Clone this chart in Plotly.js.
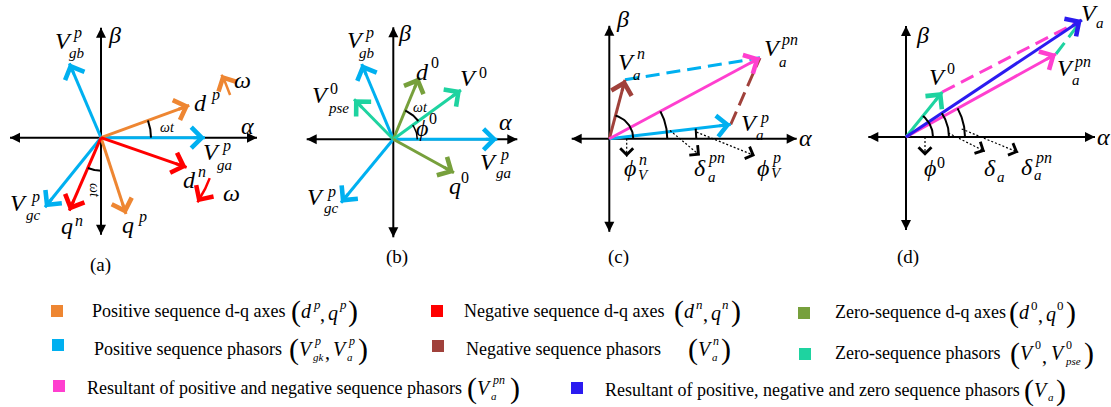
<!DOCTYPE html>
<html><head><meta charset="utf-8">
<script src="https://cdn.plot.ly/plotly-3.0.1.min.js"></script>
<style>html,body{margin:0;padding:0;background:#fff}#chart{width:1111px;height:407px}</style>
</head><body><div id="chart"></div>
<script>
// ================= DATA (alpha / beta components of each phasor or axis) =================
// (a) positive & negative sequence d-q frames and positive sequence grid phasors
const aNames = ['Vgb_p', 'Vga_p', 'Vgc_p', 'd_p', 'q_p', 'd_n', 'q_n'];
const aAlpha = [-31.6, 104, -56, 88.3, 25, 85.6, -31.7];
const aBeta  = [74.4, 0, -69.6, 32.4, -76.3, -29.6, -73];
// (b) zero sequence frame and phasors
const bNames = ['Vgb_p', 'Vga_p', 'Vgc_p', 'Vpse_0', 'd_0', 'V_0', 'q_0'];
const bAlpha = [-31.6, 104, -52.3, -39.3, 25.7, 67.7, 60.7];
const bBeta  = [75.3, 0, -63.4, 40, 62, 49.3, -33.4];
// (c) positive + negative sequence resultant
const cNames = ['Va_n', 'Va_p', 'Va_pn'];
const cAlpha = [15.7, 121.4, 150.7];
const cBeta  = [59, 14.3, 81];
// (d) resultant including zero sequence
const dNames = ['V_0', 'Va_pn', 'Va'];
const dAlpha = [36.3, 150, 175.7];
const dBeta  = [45, 83, 117];
// legend texts
const legendTexts = ['Positive sequence d-q axes', 'Negative sequence d-q axes', 'Zero-sequence d-q axes',
  'Positive sequence phasors', 'Negative sequence phasors', 'Zero-sequence phasors',
  'Resultant of positive and negative sequence phasors', 'Resultant of positive, negative and zero sequence phasors'];

// ================= STYLE =================
const FONT = '"Liberation Serif", "Times New Roman", serif';
const W = 1111, H = 407;
const C = {orange:'#EE8632', blue:'#00B0F0', red:'#FF0000', brown:'#A0413B', olive:'#77A03C',
           teal:'#1ED3A0', magenta:'#FF3FCF', violet:'#2B1BF0'};
const colorOf = {Vgb_p:C.blue, Vga_p:C.blue, Vgc_p:C.blue, d_p:C.orange, q_p:C.orange, d_n:C.red, q_n:C.red,
  Vpse_0:C.teal, d_0:C.olive, V_0:C.teal, q_0:C.olive, Va_n:C.brown, Va_p:C.blue, Va_pn:C.magenta, Va:C.violet};
const legendColors = [C.orange, C.red, C.olive, C.blue, C.brown, C.teal, C.magenta, C.violet];

const traces = [], ann = [], shapes = [];
const layout = {width:W, height:H, margin:{l:0,r:0,t:0,b:0}, paper_bgcolor:'#fff', plot_bgcolor:'rgba(0,0,0,0)',
  showlegend:false, hovermode:false};

const panels = [
  {box:[0,280],    origin:[101,137.7],   axes:[-91,156,-97,110],      names:aNames, al:aAlpha, be:aBeta},
  {box:[280,560],  origin:[393.3,139.3], axes:[-86.6,124,-98,112],    names:bNames, al:bAlpha, be:bBeta},
  {box:[560,840],  origin:[609.3,138.8], axes:[-37.6,187.4,-93,113],  names:cNames, al:cAlpha, be:cBeta},
  {box:[840,1111], origin:[906,137],     axes:[-37.7,189,-93,111],    names:dNames, al:dAlpha, be:dBeta}
];
panels.forEach((p, i) => {
  const s = i ? String(i + 1) : '';
  p.xa = 'x' + s; p.ya = 'y' + s;
  layout['xaxis' + s] = {domain:[p.box[0]/W, p.box[1]/W], range:[p.box[0]-p.origin[0], p.box[1]-p.origin[0]],
    visible:false, fixedrange:true, anchor:'y' + s};
  layout['yaxis' + s] = {domain:[1-300/H, 1], range:[-(300-p.origin[1]), p.origin[1]],
    visible:false, fixedrange:true, anchor:'x' + s};
  p.vec = {};
  p.names.forEach((n, k) => { p.vec[n] = [p.al[k], p.be[k]]; });
});

function line(p, xs, ys, color, width, dash) {
  traces.push({type:'scatter', mode:'lines', x:xs, y:ys, xaxis:p.xa, yaxis:p.ya,
    line:{color:color, width:width, dash:dash || 'solid'}, hoverinfo:'skip', showlegend:false});
}
function head(p, x, y, fx, fy, color, w, size, style, tail) {
  const dx = x - fx, dy = y - fy, L = Math.hypot(dx, dy) || 1, t = tail || 9;
  ann.push({xref:p.xa, yref:p.ya, axref:p.xa, ayref:p.ya, x:x, y:y, ax:x - dx/L*t, ay:y - dy/L*t,
    text:'', font:{size:1}, borderpad:0, showarrow:true, arrowhead:style, arrowsize:size, arrowwidth:w,
    arrowcolor:color, standoff:0});
}
function ang(p, n) { return typeof n === 'number' ? n : Math.atan2(p.vec[n][1], p.vec[n][0]) * 180 / Math.PI; }
function arc(p, r, from, to, color, width, arrow) {
  const a0 = ang(p, from), a1 = ang(p, to), xs = [], ys = [], N = 30;
  for (let k = 0; k <= N; k++) { const t = (a0 + (a1 - a0) * k / N) * Math.PI / 180; xs.push(r*Math.cos(t)); ys.push(r*Math.sin(t)); }
  line(p, xs, ys, color, width);
  if (arrow) head(p, xs[N], ys[N], xs[N-2], ys[N-2], color, width, 1.6, 4, 7);
}
function pointer(p, x0, y0, x1, y1) {
  line(p, [x0, x1], [y0, y1], '#000', 1.2, '2px,2px');
  head(p, x1, y1, x0, y0, '#000', 1, 2.5, 4, 5);
}

// axes
panels.forEach(p => {
  const [l, r, b, t] = p.axes;
  line(p, [l, r], [0, 0], '#000', 2);
  line(p, [0, 0], [b, t], '#000', 2);
  head(p, r, 0, 0, 0, '#000', 2, 1, 2); head(p, l, 0, 0, 0, '#000', 2, 1, 2);
  head(p, 0, t, 0, 0, '#000', 2, 1, 2); head(p, 0, b, 0, 0, '#000', 2, 1, 2);
});
// dashed construction lines
function dashed(p, fromN, toN, color) {
  line(p, [p.vec[fromN][0], p.vec[toN][0]], [p.vec[fromN][1], p.vec[toN][1]], color, 3, '14px,7px');
}
dashed(panels[2], 'Va_n', 'Va_pn', C.blue);
dashed(panels[2], 'Va_p', 'Va_pn', C.brown);
dashed(panels[3], 'V_0', 'Va', C.magenta);
dashed(panels[3], 'Va_pn', 'Va', C.teal);
// phasors / frame axes
panels.forEach(p => {
  p.names.forEach((n, k) => {
    const col = colorOf[n];
    line(p, [0, p.al[k]], [0, p.be[k]], col, 3);
    head(p, p.al[k], p.be[k], 0, 0, col, 3, 1.35, 4, 12);
  });
});
// angle arcs
const [pa, pb, pc, pd] = panels;
arc(pa, 50, 0, 'd_p', '#000', 2);
arc(pa, 33, 'q_n', -90, '#000', 2);
arc(pa, 136, 18.3, 27.6, C.orange, 2.5, true);
arc(pa, 116, -20.4, -33.8, C.red, 2.5, true);
arc(pb, 31, 'V_0', 'd_0', '#000', 2);
arc(pb, 24, 0, 'V_0', '#000', 1.5);
arc(pc, 24, 0, 'Va_n', '#000', 2);
arc(pc, 58, 0, 'Va_pn', '#000', 2);
arc(pc, 87, 0, 'Va_p', '#000', 2);
arc(pd, 27, 0, 'V_0', '#000', 2);
arc(pd, 43, 0, 'Va', '#000', 2);
arc(pd, 59, 0, 'Va_pn', '#000', 2);
pointer(pc, 17.4, 0, 17.4, -18);
pointer(pc, 60.7, 8.3, 90.7, -16.7);
pointer(pc, 87.3, 6.7, 145.7, -17);
pointer(pd, 19, 0, 19, -18.7);
pointer(pd, 42.3, 4, 79, -14.4);
pointer(pd, 55.7, 8, 112.3, -15.4);

// ================= TEXT =================
function txt(x, y, text, size, o) {
  o = o || {};
  ann.push({xref:'paper', yref:'paper', x:x/W, y:1-y/H, text:text, showarrow:false,
    xanchor:o.xa || 'center', yanchor:'middle', textangle:o.rot || 0,
    font:{family:FONT, size:size, color:o.color || '#000', style:o.it ? 'italic' : 'normal'}});
}
function isDigit(s) { return /^[0-9]+$/.test(s); }
function lab(m, mx, my, sup, sx, sy, sub, bx, by, size) {
  txt(mx, my, m, size || 24, {it:true});
  if (sup) txt(sx, sy, sup, 16, {it:!isDigit(sup)});
  if (sub) txt(bx, by, sub, 15, {it:true});
}
// panel (a)
lab('β', 114, 35); lab('α', 247, 126);
lab('V', 63, 41, 'p', 77, 33, 'gb', 77, 53);
lab('V', 211, 152, 'p', 226, 146, 'ga', 224, 165);
lab('V', 18, 203, 'p', 35, 197, 'gc', 33, 215);
lab('d', 200, 103, 'p', 215, 95);
lab('d', 189, 180, 'n', 202, 172);
lab('q', 67, 226, 'n', 79, 220);
lab('q', 128, 225, 'p', 142, 217);
lab('ω', 242, 80); lab('ω', 231, 193);
txt(167, 128, 'ωt', 14, {it:true});
txt(95, 190, 'ωt', 14, {it:true, rot:90});
txt(100, 265, '(a)', 19);
// panel (b)
lab('β', 404, 33); lab('α', 505, 122);
lab('V', 355, 40, 'p', 369, 33, 'gb', 367, 53);
lab('V', 320, 95, '0', 334, 88, 'pse', 338, 108);
lab('d', 422, 72, '0', 435, 62);
lab('V', 468, 78, '0', 483, 72);
txt(420, 108, 'ωt', 14, {it:true});
lab('ϕ', 422, 128, '0', 433, 118);
lab('V', 488, 162, 'p', 504, 155, 'ga', 503, 173);
lab('q', 455, 186, '0', 465, 177);
lab('V', 315, 197, 'p', 331, 192, 'gc', 331, 208);
txt(397, 257, '(b)', 19);
// panel (c)
lab('β', 622, 19); lab('α', 805, 138);
lab('V', 627, 62, 'n', 641, 53, 'a', 637, 75);
lab('V', 772, 48, 'pn', 789, 40, 'a', 783, 62);
lab('V', 749, 123, 'p', 764, 118, 'a', 760, 135);
lab('ϕ', 630, 168, 'n', 643, 160, 'V', 643, 175);
lab('δ', 700, 168, 'pn', 716, 158, 'a', 712, 177);
lab('ϕ', 763, 168, 'p', 777, 158, 'V', 776, 173);
txt(618, 257, '(c)', 19);
// panel (d)
lab('β', 922, 35); lab('α', 1103, 137);
lab('V', 1089, 13, null, 0, 0, 'a', 1100, 23);
lab('V', 937, 77, '0', 951, 68);
lab('V', 1065, 68, 'pn', 1082, 62, 'a', 1076, 80);
lab('ϕ', 930, 168, '0', 941, 162);
lab('δ', 990, 168, null, 0, 0, 'a', 1001, 177);
lab('δ', 1027, 167, 'pn', 1043, 158, 'a', 1038, 175);
txt(908, 257, '(d)', 19);

// ================= LEGEND =================
const sq = [[57,311],[437,311],[804,313],[58,345],[438,346],[805,354],[59,386],[577,388]];
const tp = [[90,311],[462,311],[833,312],[92,349],[464,349],[833,353],[85,388],[603,390]];
const mp = [[289,311],[672,311],[1007,312],[287,349],[686,349],[1008,353],[465,388],[1022,390]];
const math = [
  [['(',0,0,30],['d',10,0,20,1],['p',22,-7,13,1],[',',29,3,20],['q',37,2,20,1],['p',48,-7,13,1],[')',57,0,30]],
  [['(',0,0,30],['d',10,0,20,1],['n',22,-7,13,1],[',',29,3,20],['q',37,2,20,1],['n',48,-7,13,1],[')',57,0,30]],
  [['(',0,0,30],['d',10,0,20,1],['0',22,-7,13],[',',29,3,20],['q',37,2,20,1],['0',48,-7,13],[')',57,0,30]],
  [['(',0,0,30],['V',10,0,20,1],['p',25,-8,12,1],['gk',24,8,11,1],[',',36,3,20],['V',44,0,20,1],['p',59,-8,12,1],['a',58,8,11,1],[')',69,0,30]],
  [['(',0,0,30],['V',10,0,20,1],['n',25,-8,12,1],['a',24,8,11,1],[')',33,0,30]],
  [['(',0,0,30],['V',10,0,20,1],['0',25,-8,12],[',',32,3,20],['V',41,0,20,1],['0',56,-8,12],['pse',55,8,11,1],[')',74,0,30]],
  [['(',0,0,30],['V',10,0,20,1],['pn',25,-8,12,1],['a',24,8,11,1],[')',43,0,30]],
  [['(',0,0,30],['V',10,0,20,1],['a',24,7,11,1],[')',32,0,30]]
];
legendTexts.forEach((t, i) => {
  shapes.push({type:'rect', xref:'paper', yref:'paper', x0:(sq[i][0]-6)/W, x1:(sq[i][0]+6)/W,
    y0:1-(sq[i][1]+6)/H, y1:1-(sq[i][1]-6)/H, fillcolor:legendColors[i], line:{width:0}});
  txt(tp[i][0], tp[i][1], t, 18, {xa:'left'});
  math[i].forEach(pc => txt(mp[i][0] + pc[1], mp[i][1] + pc[2], pc[0], pc[3], {xa:'left', it:!!pc[4]}));
});

layout.annotations = ann;
layout.shapes = shapes;
Plotly.newPlot('chart', traces, layout, {staticPlot:true, displayModeBar:false});
</script>
</body></html>
